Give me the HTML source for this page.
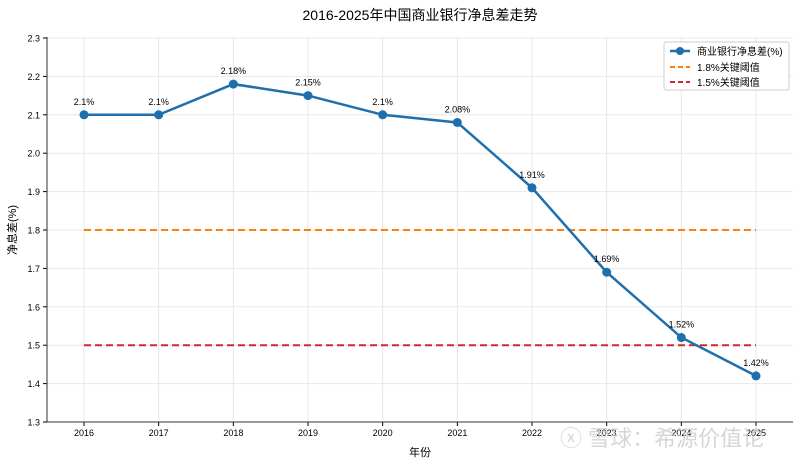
<!DOCTYPE html>
<html><head><meta charset="utf-8"><style>
body{margin:0;background:#fff;}
svg{font-family:"Liberation Sans","Noto Sans CJK SC",sans-serif;}
</style></head><body>
<svg id="chart" width="800" height="463" xmlns="http://www.w3.org/2000/svg">
<text x="420" y="20" text-anchor="middle" font-size="14" fill="#000">2016-2025年中国商业银行净息差走势</text>
<g id="grid"></g><g id="axes"></g><g id="series"></g>
<text x="420" y="456" text-anchor="middle" font-size="11">年份</text>
<text transform="translate(16,230) rotate(-90)" text-anchor="middle" font-size="11">净息差(%)</text>
<g>
<rect x="664" y="42" width="125" height="48" fill="#fff" stroke="#ccc" rx="2"/>
<line x1="670" y1="51" x2="690" y2="51" stroke="#1f6fad" stroke-width="2.5"/><circle cx="680" cy="51" r="4" fill="#1f6fad"/>
<text x="697" y="55" font-size="10">商业银行净息差(%)</text>
<line x1="670" y1="67" x2="690" y2="67" stroke="#ff7f0e" stroke-width="2" stroke-dasharray="5,3"/>
<text x="697" y="71" font-size="10">1.8%关键阈值</text>
<line x1="670" y1="82" x2="690" y2="82" stroke="#d62728" stroke-width="2" stroke-dasharray="5,3"/>
<text x="697" y="86" font-size="10">1.5%关键阈值</text>
</g>
<text x="560" y="446" font-size="22" fill="#ccc" opacity="0.8">ⓧ 雪球：希源价值论</text>
</svg>
<script>
const years=[2016,2017,2018,2019,2020,2021,2022,2023,2024,2025];
const margins=[2.1,2.1,2.18,2.15,2.1,2.08,1.91,1.69,1.52,1.42];
const labels=["2.1%","2.1%","2.18%","2.15%","2.1%","2.08%","1.91%","1.69%","1.52%","1.42%"];
const yTicks=[1.3,1.4,1.5,1.6,1.7,1.8,1.9,2.0,2.1,2.2,2.3];
const thresholds=[1.8,1.5];
const NS="http://www.w3.org/2000/svg";
const x=i=>84+i*(756-84)/9;
const y=v=>422-(v-1.3)*384;
function mk(t,a,p){const e=document.createElementNS(NS,t);for(const k in a)e.setAttribute(k,a[k]);p.appendChild(e);return e;}
const grid=document.getElementById('grid'),axes=document.getElementById('axes'),ser=document.getElementById('series');
yTicks.forEach(v=>{
 const g=mk('line',{x1:47,x2:793,y1:y(v),y2:y(v),stroke:'#e8e8e8'},grid);
 
 mk('line',{x1:43,x2:47,y1:y(v),y2:y(v),stroke:'#000'},axes);
 const t=mk('text',{x:40,y:y(v)+3.5,'text-anchor':'end','font-size':9},axes);t.textContent=v.toFixed(1);
 
});
years.forEach((yr,i)=>{
 const g=mk('line',{x1:x(i),x2:x(i),y1:37,y2:422,stroke:'#e8e8e8'},grid);
 
 mk('line',{x1:x(i),x2:x(i),y1:422,y2:426,stroke:'#000'},axes);
 const t=mk('text',{x:x(i),y:436,'text-anchor':'middle','font-size':9},axes);t.textContent=yr;
 
});
mk('line',{x1:47,x2:47,y1:37,y2:422,stroke:'#333'},axes);
mk('line',{x1:47,x2:793,y1:422,y2:422,stroke:'#333'},axes);
const tc=['#ff7f0e','#d62728'];
thresholds.forEach((v,k)=>{
 const l=mk('line',{x1:x(0),x2:x(9),y1:y(v),y2:y(v),stroke:tc[k],'stroke-width':2,'stroke-dasharray':'7,4'},ser);
 
});
const p=mk('polyline',{points:margins.map((v,i)=>x(i)+','+y(v)).join(' '),fill:'none',stroke:'#1f6fad','stroke-width':2.5},ser);

margins.forEach((v,i)=>{
 const c=mk('circle',{cx:x(i),cy:y(v),r:4.5,fill:'#1f6fad'},ser);
 
 const t=mk('text',{x:x(i),y:y(v)-10,'text-anchor':'middle','font-size':9},ser);t.textContent=labels[i];
 
});
</script>
</body></html>
